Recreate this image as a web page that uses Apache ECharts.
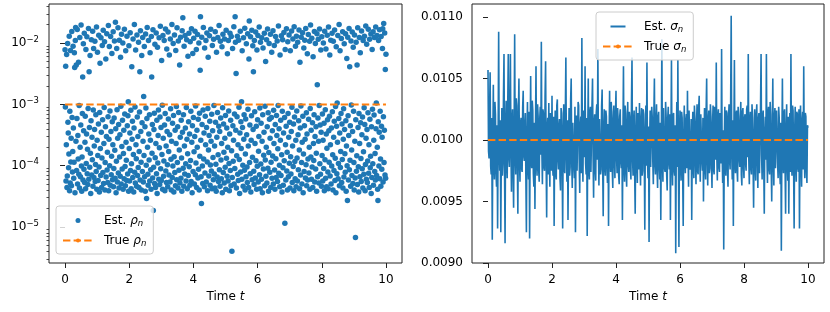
<!DOCTYPE html>
<html><head><meta charset="utf-8">
<script src="https://cdn.jsdelivr.net/npm/echarts@6/dist/echarts.min.js"></script>
<style>html,body{margin:0;padding:0;background:#fff}#c{width:830px;height:312px}</style>
</head><body><div id="c"></div>
<script>
// ---- data ----
const timeStart = 0;
const timeEnd = 10;
const rhoEst = [
7.8e-3,9.1e-4,4.2e-3,5.6e-5,2.2e-4,6.5e-3,4.4e-5,6.8e-5,9.9e-3,5.1e-4,3.4e-4,9.2e-5,1.55e-4,1.3e-2,3.9e-5,7.7e-4,5.2e-5,7.6e-3,1.15e-4,2.8e-4,
4.7e-5,1.55e-2,6.1e-4,7.9e-5,1.7e-4,8.9e-3,4.1e-4,6.2e-5,1.14e-4,7.0e-3,4.0e-3,3.6e-5,1.11e-2,1.8e-2,2.5e-4,4.4e-3,8.3e-5,5.9e-4,1.67e-2,5.0e-5,
3.1e-4,1.28e-4,4.9e-3,7.2e-5,9.6e-4,4.3e-5,1.24e-2,2.0e-4,6.6e-5,4.6e-4,1.98e-2,9.9e-5,3.8e-5,1.38e-4,7.1e-4,2.8e-3,5.8e-5,9.8e-3,3.7e-4,8.7e-5,
1.45e-2,5.3e-5,2.4e-4,6.4e-4,4.2e-5,7.9e-3,1.08e-4,3.3e-4,1.27e-2,7.4e-5,1.85e-4,4.9e-5,8.6e-4,1.74e-2,6.0e-5,3.4e-3,4.2e-4,9.4e-5,6.3e-3,1.6e-4,
3.5e-5,5.4e-4,1.14e-2,7.0e-5,2.9e-4,1.25e-4,1.57e-2,4.6e-5,8.1e-4,8.2e-3,6.4e-5,2.1e-4,3.9e-4,1.07e-2,5.5e-5,1.04e-4,6.8e-4,8.0e-5,1.83e-2,4.1e-5,
2.6e-4,7.1e-3,1.47e-4,5.7e-5,4.8e-4,1.35e-2,9.5e-5,3.7e-5,7.4e-4,4.7e-3,1.9e-4,6.9e-5,1.22e-2,3.5e-4,4.4e-5,1.33e-4,9.2e-3,5.6e-4,7.7e-5,1.62e-2,
5.1e-5,2.3e-4,8.9e-4,1.05e-2,4.0e-5,1.12e-4,4.3e-4,5.5e-3,6.5e-5,3.0e-4,1.43e-2,8.5e-5,1.65e-4,5.3e-5,6.3e-4,1.94e-2,3.9e-5,2.7e-4,8.8e-3,1.0e-4,
7.8e-4,4.8e-5,1.28e-2,3.6e-4,7.1e-5,1.42e-4,6.8e-3,5.2e-4,5.9e-5,2.2e-4,1.53e-2,4.5e-5,9.0e-5,6.0e-4,1.08e-2,1.78e-4,6.2e-5,2.2e-2,4.0e-4,3.6e-5,
1.18e-4,8.2e-3,8.2e-4,5.4e-5,2.8e-4,1.79e-2,7.6e-5,4.7e-4,4.3e-5,1.12e-2,1.38e-4,3.2e-4,6.7e-5,5.9e-3,9.3e-4,5.0e-5,1.4e-2,2.05e-4,8.8e-5,5.5e-4,
1.01e-2,4.1e-5,1.58e-4,3.8e-4,6.1e-5,1.69e-2,7.0e-4,9.7e-5,4.7e-5,7.5e-3,2.4e-4,1.22e-4,5.7e-5,1.3e-2,4.5e-4,7.3e-5,6.5e-4,1.1e-3,3.8e-5,9.1e-3,
1.9e-4,5.6e-5,3.4e-4,1.48e-2,8.3e-5,8.0e-4,4.2e-5,1.07e-4,4.1e-3,2.7e-4,5.3e-4,6.4e-5,1.17e-2,1.52e-4,3.7e-5,4.1e-4,2.02e-2,7.8e-5,9.1e-4,5.2e-5,
7.7e-3,2.2e-4,1.3e-4,4.6e-5,1.36e-2,6.2e-4,6.9e-5,3.0e-4,9.3e-5,1.03e-2,4.4e-5,1.7e-4,7.5e-4,3.4e-3,5.8e-5,1.6e-2,3.6e-4,1.14e-4,4.0e-5,6.3e-3,
5.0e-4,8.0e-5,1.24e-2,2.5e-4,5.4e-5,1.35e-3,1.46e-4,8.8e-3,6.6e-5,4.3e-4,3.8e-5,1.41e-2,8.7e-4,1.01e-4,2.9e-5,5.9e-4,1.81e-2,2.0e-4,7.2e-5,4.8e-5,
1.11e-2,3.3e-4,1.24e-4,6.8e-4,5.6e-5,7.0e-3,2.6e-4,8.6e-5,4.1e-5,1.28e-2,2.8e-3,1.6e-4,4.7e-4,6.3e-5,1.65e-2,1.85e-5,9.4e-5,3.9e-4,7.2e-4,5.1e-5,
9.6e-3,1.35e-4,4.4e-5,2.3e-4,1.47e-2,7.4e-5,5.5e-4,3.5e-5,8.6e-3,1.1e-4,3.1e-4,8.1e-4,6.0e-5,1.22e-2,1.95e-4,4.9e-5,6.2e-4,1.88e-2,8.9e-5,4.2e-4,
5.7e-5,5.2e-3,1.52e-4,9.7e-4,4.1e-5,1.33e-2,2.8e-4,6.7e-5,1.19e-4,1.1e-2,4.6e-4,3.9e-5,7.1e-4,1.71e-2,8.2e-5,2.1e-4,5.3e-5,8.0e-3,3.6e-4,1.03e-4,
4.5e-5,1.52e-2,5.8e-4,1.7e-4,7.0e-5,6.4e-3,3.2e-4,5.4e-5,1.17e-2,8.5e-4,1.27e-4,4.0e-5,2.5e-4,2.02e-2,6.4e-5,4.9e-4,9.9e-5,9.9e-3,6.6e-4,3.7e-5,
1.4e-4,1.36e-2,7.7e-5,3.8e-4,4.7e-5,7.6e-3,2.3e-4,9.2e-4,5.9e-5,1.78e-2,1.12e-4,4.3e-4,4.3e-5,1.08e-2,7.4e-4,8.4e-5,1.8e-4,4.4e-3,5.2e-5,2.9e-4,
1.25e-2,6.2e-5,5.5e-4,1.33e-4,3.8e-5,1.6e-2,3.5e-4,2.6e-2,9.1e-5,6.8e-4,4.6e-5,8.9e-3,2.1e-4,7.3e-5,1.33e-2,4.1e-4,1.07e-4,5.6e-5,8.9e-4,1.14e-2,
2.7e-4,4.2e-5,1.56e-4,6.1e-3,6.9e-5,5.2e-4,1.45e-2,9.6e-5,3.3e-4,4.8e-5,1.05e-2,1.21e-4,7.7e-4,5.5e-5,1.72e-2,2.4e-4,3.6e-5,4.5e-4,6.8e-3,8.0e-5,
6.1e-4,1.2e-2,1.68e-4,5.0e-5,3.0e-4,1.57e-2,7.1e-5,9.4e-4,1.1e-4,7.9e-3,4.4e-5,3.8e-4,2.0e-4,1.38e-2,6.3e-5,5.7e-4,8.7e-5,1.01e-2,4.0e-5,7.2e-4,
1.42e-4,3.6e-3,2.7e-2,2.6e-4,6.6e-5,2.4e-5,1.25e-2,4.7e-4,9.9e-5,5.1e-5,8.1e-4,1.81e-2,1.28e-4,3.4e-4,4.5e-5,8.3e-3,7.6e-5,6.4e-4,2.2e-4,1.1e-2,
5.4e-5,4.2e-4,1.47e-2,1.15e-4,3.9e-5,8.6e-4,5.9e-3,1.8e-4,6.8e-5,3.1e-4,1.32e-2,5.3e-4,4.8e-5,1.02e-4,1.69e-2,2.5e-4,8.2e-5,6.9e-4,4.2e-5,9.2e-3,
3.7e-4,1.36e-4,5.9e-5,1.16e-2,9.6e-4,7.3e-5,2.1e-4,4.3e-5,1.53e-2,5.1e-4,1.05e-4,3.8e-5,7.1e-3,2.9e-4,6.5e-5,7.4e-4,1.24e-2,1.5e-4,5.5e-5,4.4e-4,
1.94e-2,8.6e-5,3.6e-4,4.6e-5,1.07e-2,6.0e-4,1.24e-4,6.1e-5,2.3e-4,8.7e-3,3.6e-5,8.8e-4,1.4e-2,7.7e-5,4.8e-4,1.65e-4,5.2e-5,1.17e-2,2.8e-4,9.4e-5,
6.6e-4,4.1e-5,1.62e-2,1.32e-4,4.1e-4,6.7e-5,6.7e-3,2.0e-4,5.6e-5,1.11e-2,7.8e-4,1.08e-4,3.9e-5,3.3e-4,1.45e-2,8.3e-5,5.5e-4,4.7e-5,1.28e-2,1.75e-4,
4.0e-6,6.4e-5,8.2e-3,4.5e-4,1.18e-4,2.6e-4,1.85e-2,5.0e-5,7.0e-4,9.0e-5,2.7e-2,1.03e-2,3.8e-4,3.2e-3,4.3e-5,1.45e-4,6.3e-4,1.3e-2,7.2e-5,2.2e-4,
5.7e-5,1.12e-2,9.0e-4,1.26e-4,3.5e-5,3.4e-4,1.57e-2,7.9e-5,5.2e-4,1.9e-4,1.1e-3,6.0e-5,7.5e-3,4.2e-4,1.01e-4,4.6e-5,1.22e-2,2.7e-4,6.8e-4,8.4e-5,
1.76e-2,4.0e-5,1.55e-4,5.8e-4,6.6e-5,9.8e-3,3.2e-4,9.5e-5,5.3e-5,1.43e-2,8.3e-4,2.1e-4,4.4e-5,5.5e-3,2.3e-2,1.13e-4,4.6e-4,7.4e-5,1.27e-2,3.7e-5,
2.6e-4,6.5e-4,1.62e-2,5.9e-5,1.37e-4,9.1e-3,3.9e-4,3.4e-3,8.1e-5,4.9e-5,1.1e-2,7.6e-4,2.3e-4,6.3e-5,1.52e-2,1.2e-4,4.4e-4,4.1e-5,7.7e-3,9.8e-5,
5.6e-4,1.33e-2,5.4e-5,1.72e-4,3.0e-4,1.83e-2,7.1e-5,8.7e-4,4.2e-5,1.03e-2,1.06e-4,4.9e-4,6.0e-5,1.22e-2,2.5e-4,3.6e-5,6.8e-4,8.3e-3,8.8e-5,1.48e-4,
3.5e-4,1.45e-2,4.7e-5,9.3e-4,1.24e-4,5.0e-3,6.7e-5,2.0e-4,1.14e-2,5.2e-5,4.3e-4,1.71e-2,9.1e-5,7.3e-4,3.8e-5,1.64e-4,9.9e-3,5.7e-4,7.8e-5,2.8e-4,
1.4e-2,4.4e-5,1.14e-4,6.1e-4,7.1e-3,6.2e-5,3.7e-4,1.43e-4,1.6e-2,5.0e-5,8.0e-4,2.3e-4,9.2e-3,8.5e-5,4.1e-5,4.7e-4,1.28e-2,1.3e-4,6.4e-5,6.6e-4,
3.1e-4,1.08e-2,5.5e-5,1.88e-4,9.6e-4,1.9e-2,7.5e-5,4.0e-4,1.01e-4,4.5e-5,6.4e-3,2.6e-4,5.5e-4,6.9e-5,1.32e-2,1.5e-4,3.7e-5,7.7e-4,1.14e-2,9.2e-5,
4.8e-5,3.4e-4,1.5e-2,1.2e-4,6.1e-4,1.15e-5,7.9e-3,2.2e-4,5.8e-5,4.4e-4,1.72e-2,8.2e-5,1.66e-4,4.0e-5,1.05e-2,7.1e-4,6.6e-5,2.9e-4,1.36e-2,1.09e-4,
5.1e-4,4.3e-5,7.5e-3,1.4e-4,7.3e-5,3.6e-4,1.58e-2,9.0e-4,5.3e-5,2.1e-4,1.17e-2,9.7e-5,4.8e-4,3.9e-5,1.85e-2,6.2e-4,1.17e-4,6.1e-5,8.9e-3,2.6e-4,
4.5e-5,1.3e-2,7.8e-4,1.33e-4,5.6e-5,1.03e-2,3.2e-4,8.6e-5,5.4e-4,1.64e-2,1.8e-4,4.2e-5,4.9e-3,4.1e-4,7.0e-5,9.4e-4,1.25e-2,1.12e-4,5.0e-5,2.4e-4,
1.48e-2,6.4e-4,3.6e-5,1.55e-4,8.3e-3,8.0e-5,4.5e-4,1.12e-2,2.7e-4,6.3e-5,1.74e-2,1.03e-4,7.3e-4,4.7e-5,3.3e-4,6.7e-3,5.8e-5,1.28e-4,1.38e-2,5.7e-4,
7.6e-5,2.0e-4,1.07e-2,4.1e-5,8.6e-4,1.98e-2,1.38e-4,3.8e-4,6.0e-5,1.2e-2,9.5e-5,5.0e-4,4.4e-5,6.0e-3,2.3e-4,1.21e-4,6.8e-4,1.55e-2,5.4e-5,3.0e-4,
9.9e-3,8.8e-5,4.3e-4,1.6e-4,3.8e-5,1.43e-2,2.1e-3,6.6e-5,6.0e-4,1.16e-2,2.5e-4,5.2e-5,9.6e-4,1.71e-2,1.07e-4,4.6e-4,7.2e-5,7.7e-3,3.5e-4,4.6e-5,
1.27e-2,1.47e-4,7.0e-4,5.6e-5,2.6e-4,1.01e-2,9.0e-5,4.9e-4,3.9e-5,1.57e-2,1.25e-4,8.2e-4,6.2e-5,8.0e-3,3.3e-4,4.5e-5,1.92e-4,1.35e-2,5.6e-4,7.9e-5,
4.2e-5,1.83e-2,3.7e-4,1.14e-4,6.4e-4,6.4e-3,6.8e-5,2.2e-4,1.12e-2,5.0e-5,4.1e-4,9.9e-5,1.45e-2,7.6e-4,1.5e-4,4.0e-5,1.07e-2,2.9e-4,8.3e-5,5.3e-4,
1.64e-2,5.7e-5,1.32e-4,9.2e-4,3.6e-5,8.7e-3,4.4e-4,7.4e-5,1.05e-3,2.4e-4,1.33e-2,6.1e-5,1.08e-4,5.9e-4,2.02e-2,4.7e-5,3.4e-4,7.5e-3,9.3e-5,1.7e-4,
7.1e-4,1.19e-2,5.3e-5,4.8e-4,1.26e-4,1.53e-2,4.3e-5,2.7e-4,8.5e-4,6.5e-5,9.8e-3,3.9e-4,1.57e-4,7.8e-5,1.43e-2,5.4e-4,3.8e-5,2.1e-4,5.6e-3,1.0e-4,
2.7e-5,1.25e-2,6.5e-4,5.8e-5,3.1e-4,1.74e-2,8.6e-5,4.1e-3,1.22e-4,4.5e-4,4.6e-5,1.08e-2,9.8e-4,1.8e-4,6.9e-5,1.52e-2,3.6e-4,5.1e-5,8.6e-3,7.7e-4,
1.13e-4,4.0e-5,1.36e-2,2.5e-4,6.3e-5,6.7e-6,5.6e-4,1.03e-2,8.1e-5,1.45e-4,4.4e-3,4.9e-5,1.79e-2,4.2e-4,9.6e-5,3.7e-5,7.1e-4,1.24e-2,2.3e-4,6.6e-5,
7.0e-3,5.0e-4,1.31e-4,5.5e-5,1.58e-2,3.2e-4,8.9e-5,6.2e-4,4.3e-5,1.11e-2,1.68e-4,7.2e-5,8.8e-4,1.3e-2,4.7e-4,3.9e-5,1.04e-4,1.9e-2,2.8e-4,6.0e-5,
9.6e-3,3.9e-4,5.3e-5,1.19e-4,7.3e-4,1.69e-2,7.5e-5,2.2e-4,4.4e-5,1.16e-2,5.7e-4,9.2e-5,1.42e-4,1.41e-2,3.5e-5,4.3e-4,6.4e-5,7.9e-3,8.3e-4,1.07e-4,
1.53e-2,4.8e-5,2.6e-4,6.7e-4,1.24e-2,8.0e-5,1.58e-4,5.8e-5,1.83e-2,4.0e-4,1.05e-3,6.9e-5,1.33e-2,2.0e-4,4.1e-5,2.7e-5,5.2e-4,1.11e-2,9.9e-5,3.5e-4,
1.65e-2,6.1e-5,7.7e-4,1.28e-4,4.6e-5,1.28e-2,4.4e-4,8.7e-5,2.9e-4,8.2e-3,1.72e-2,5.4e-5,6.3e-4,2.1e-2,1.12e-4,3.8e-4,1.47e-2,7.0e-5,3.7e-3,6.2e-5,
6.6e-3
];
const rhoTrue = 1e-3;
const sigmaEst = [
0.01057,0.00991,0.00985,0.01024,0.01055,0.00979,0.00972,0.01018,0.00919,0.00996,0.01045,0.00983,0.00968,0.01031,0.01021,0.00974,0.00962,0.01012,0.00928,0.01003,
0.01088,0.00994,0.00975,0.01016,0.00925,0.00988,0.01026,0.00971,0.00981,0.01035,0.0107,0.00978,0.00916,0.01009,0.01032,0.00982,0.00969,0.01027,0.0107,0.00986,
0.00978,0.01021,0.0107,0.00993,0.00958,0.01015,0.01025,0.00976,0.00945,0.01008,0.01086,0.00989,0.00972,0.01034,0.01028,0.00981,0.0094,0.01019,0.0105,0.00984,
0.00966,0.01013,0.01018,0.00977,0.00974,0.01026,0.0104,0.00987,0.00983,0.01011,0.01022,0.00969,0.00925,0.01004,0.01031,0.00979,0.00968,0.01023,0.0092,0.00997,
0.01052,0.00985,0.00977,0.01032,0.01024,0.00973,0.00962,0.01014,0.00944,0.01006,0.0106,0.00982,0.00971,0.01029,0.01019,0.00976,0.00966,0.01017,0.01027,0.00988,
0.0108,0.00992,0.00964,0.01025,0.01021,0.00978,0.00975,0.01036,0.01064,0.00983,0.00937,0.01007,0.01018,0.00972,0.0103,0.00986,0.00962,0.01022,0.01012,0.00975,
0.01036,0.00981,0.00971,0.01019,0.0093,0.00998,0.01024,0.00974,0.00968,0.01028,0.01033,0.00985,0.00976,0.01011,0.01017,0.00969,0.00959,0.01026,0.01022,0.00983,
0.00928,0.01005,0.01029,0.00977,0.00973,0.01021,0.01067,0.00989,0.00966,0.01016,0.00935,0.00994,0.01026,0.00971,0.00978,0.01033,0.0105,0.00982,0.00961,0.01014,
0.01015,0.00979,0.00969,0.01027,0.00925,0.00996,0.0102,0.00975,0.00974,0.01031,0.01028,0.00984,0.00957,0.01012,0.01019,0.00973,0.01083,0.00991,0.00966,0.01024,
0.01024,0.00986,0.0106,0.00981,0.00972,0.01018,0.00922,0.01002,0.0105,0.00977,0.00968,0.01023,0.01027,0.00974,0.00975,0.01029,0.0105,0.00988,0.00953,0.01013,
0.01021,0.00976,0.00967,0.01022,0.01029,0.00984,0.01074,0.00993,0.00963,0.01017,0.01018,0.00972,0.00976,0.01027,0.01041,0.00981,0.00938,0.01008,0.01025,0.00979,
0.00971,0.01024,0.01019,0.00978,0.00965,0.01013,0.0093,0.00999,0.0104,0.00985,0.00974,0.01031,0.01023,0.00976,0.00961,0.01016,0.01028,0.00982,0.00969,0.01021,
0.0104,0.00987,0.00973,0.01026,0.01016,0.00971,0.00964,0.01019,0.01025,0.00983,0.00977,0.01012,0.00935,0.01004,0.0106,0.00979,0.00966,0.01028,0.01022,0.00974,
0.00962,0.01014,0.01031,0.00981,0.00974,0.01023,0.01018,0.00977,0.00968,0.01029,0.01067,0.00986,0.00971,0.01015,0.01024,0.00973,0.0094,0.01006,0.01027,0.00984,
0.00965,0.01022,0.01019,0.00976,0.0103,0.00982,0.00963,0.01017,0.01026,0.00971,0.00975,0.01025,0.01021,0.00988,0.00927,0.01001,0.01028,0.00979,0.01063,0.00985,
0.00969,0.01011,0.00917,0.00995,0.01024,0.00978,0.00977,0.01027,0.01018,0.00983,0.00964,0.01021,0.0105,0.00981,0.00972,0.01016,0.01029,0.00976,0.00961,0.01019,
0.01023,0.00979,0.00968,0.01014,0.00935,0.00997,0.01082,0.00986,0.00966,0.01026,0.01025,0.00977,0.00974,0.01031,0.01019,0.00972,0.00959,0.01018,0.01027,0.00982,
0.00976,0.01021,0.00935,0.01003,0.01065,0.00984,0.00963,0.01019,0.01022,0.00975,0.00971,0.01012,0.00908,0.00994,0.01031,0.00978,0.01065,0.00987,0.00913,0.01006,
0.01024,0.00981,0.00967,0.01023,0.01018,0.00974,0.0093,0.01002,0.01028,0.00985,0.00973,0.01016,0.01021,0.00977,0.0104,0.00989,0.00962,0.01024,0.01025,0.00976,
0.00978,0.01017,0.00935,0.00998,0.01023,0.00979,0.00969,0.01028,0.01017,0.00982,0.00964,0.01013,0.01029,0.00975,0.00972,0.01026,0.01036,0.00984,0.00966,0.01021,
0.01022,0.00983,0.00975,0.01018,0.0095,0.01001,0.01026,0.00977,0.00968,0.01024,0.0105,0.00986,0.00963,0.01015,0.01024,0.00973,0.00977,0.01029,0.01019,0.00981,
0.00961,0.01012,0.01028,0.00976,0.00972,0.01027,0.01021,0.00984,0.01063,0.00988,0.00967,0.01019,0.01025,0.00978,0.00974,0.01022,0.01018,0.00981,0.01074,0.00991,
0.00965,0.01008,0.00911,0.00996,0.01027,0.00979,0.00971,0.01024,0.01022,0.00977,0.00962,0.01018,0.01029,0.00983,0.00976,0.01031,0.01101,0.00989,0.00968,0.01016,
0.0093,0.01004,0.01065,0.00982,0.00973,0.01021,0.01024,0.00976,0.00966,0.01027,0.01019,0.00985,0.00978,0.01014,0.01031,0.00972,0.00963,0.01023,0.01026,0.00979,
0.00969,0.01018,0.01021,0.00981,0.00975,0.01025,0.01028,0.00986,0.0107,0.00984,0.00964,0.01016,0.01023,0.00977,0.00972,0.01029,0.01018,0.00983,0.00945,0.01002,
0.01025,0.00978,0.00967,0.01021,0.01029,0.00985,0.00961,0.01017,0.01022,0.00973,0.00974,0.01026,0.0107,0.00988,0.00968,0.01019,0.01024,0.00982,0.0094,0.01005,
0.01019,0.00984,0.0107,0.00987,0.00965,0.01022,0.01027,0.00976,0.00972,0.01031,0.01021,0.00979,0.0095,0.01003,0.0105,0.00985,0.00963,0.01018,0.01026,0.00977,
0.00976,0.01024,0.01023,0.00981,0.00969,0.01027,0.01018,0.00975,0.00964,0.01014,0.0091,0.00997,0.0105,0.00986,0.00973,0.01022,0.01025,0.00979,0.0094,0.01008,
0.01029,0.00982,0.00967,0.01019,0.0094,0.01002,0.01022,0.00974,0.0107,0.00985,0.00971,0.01028,0.01024,0.00978,0.00928,0.01006,0.01027,0.00981,0.00966,0.01023,
0.01021,0.00977,0.00974,0.01025,0.00928,0.00999,0.01028,0.00983,0.00962,0.01016,0.01023,0.00976,0.0106,0.00987,0.00969,0.01022,0.01019,0.00975,0.00965,0.01012,
0.0101
];
const sigmaTrue = 0.01;
const timeTicks = [0, 2, 4, 6, 8, 10];
const rhoTicks = [1e-5, 1e-4, 1e-3, 1e-2];
const rhoMinorTicks = [
3e-6,4e-6,5e-6,6e-6,7e-6,8e-6,9e-6,
2e-5,3e-5,4e-5,5e-5,6e-5,7e-5,8e-5,9e-5,
2e-4,3e-4,4e-4,5e-4,6e-4,7e-4,8e-4,9e-4,
2e-3,3e-3,4e-3,5e-3,6e-3,7e-3,8e-3,9e-3,
2e-2,3e-2,4e-2
];
const sigmaTicks = [0.0090, 0.0095, 0.0100, 0.0105, 0.0110];
const legendLabels = {
  rhoEst: 'Est. {i|ρ}{s|n}',
  rhoTrue: 'True {i|ρ}{s|n}',
  sigmaEst: 'Est. {i|σ}{s|n}',
  sigmaTrue: 'True {i|σ}{s|n}'
};

// ---- chart ----
const FONT = 'DejaVu Sans';
const BLUE = '#1f77b4', ORANGE = '#ff7f0e', INK = '#222';
const rhoTimes = rhoEst.map((_, i) => timeStart + i * (timeEnd - timeStart) / (rhoEst.length - 1));
const sigmaTimes = sigmaEst.map((_, i) => timeStart + i * (timeEnd - timeStart) / (sigmaEst.length - 1));

const legendRich = {
  i: {fontFamily: FONT, fontStyle: 'italic', fontSize: 12, color: '#000', lineHeight: 15},
  s: {fontFamily: FONT, fontStyle: 'italic', fontSize: 8.5, color: '#000', lineHeight: 8, verticalAlign: 'bottom'}
};
function makeXAxis(g) {
  return {
    gridIndex: g, type: 'value', min: -0.5, max: 10.5,
    axisLine: {show: false}, splitLine: {show: false},
    axisTick: {show: true, customValues: timeTicks, length: 5, lineStyle: {color: INK, width: 1}},
    axisLabel: {customValues: timeTicks, fontSize: 12, color: '#000', margin: 11, fontFamily: FONT},
    name: 'Time {i|t}', nameLocation: 'middle', nameGap: 28,
    nameTextStyle: {fontSize: 12, color: '#000', fontFamily: FONT,
      rich: {i: {fontStyle: 'italic', fontSize: 12, fontFamily: FONT, color: '#000'}}}
  };
}
function makeLegend(items, left, top) {
  return {
    data: items, orient: 'vertical', left: left, top: top,
    padding: [7, 7, 6, 6], itemWidth: 30, itemHeight: 5, itemGap: 5,
    selectedMode: false,
    formatter: n => legendLabels[n],
    backgroundColor: 'rgba(255,255,255,0.8)', borderColor: '#ccc', borderWidth: 1, borderRadius: 3,
    textStyle: {fontFamily: FONT, fontSize: 12, color: '#000', lineHeight: 15, padding: [0, 0, 0, 6], rich: legendRich}
  };
}

const chart = echarts.init(document.getElementById('c'), null, {renderer: 'canvas'});
chart.setOption({
  animation: false,
  textStyle: {fontFamily: FONT},
  grid: [
    {left: 49, top: 4, width: 353, height: 259, show: true, borderColor: INK, borderWidth: 1, backgroundColor: 'transparent'},
    {left: 472, top: 4, width: 352, height: 259, show: true, borderColor: INK, borderWidth: 1, backgroundColor: 'transparent'}
  ],
  xAxis: [makeXAxis(0), makeXAxis(1)],
  yAxis: [
    {gridIndex: 0, type: 'log', logBase: 10, min: 2.57e-6, max: 0.0436, position: 'left',
     axisLine: {show: false}, splitLine: {show: false},
     axisTick: {show: true, customValues: rhoTicks, length: 5, lineStyle: {color: INK, width: 1}},
     axisLabel: {customValues: rhoTicks, margin: 10, color: '#000', fontFamily: FONT,
       formatter: v => '{b|10}{e|−' + Math.round(-Math.log10(v)) + '}',
       rich: {b: {fontSize: 12, fontFamily: FONT, color: '#000', lineHeight: 16},
              e: {fontSize: 8.5, fontFamily: FONT, color: '#000', lineHeight: 9, verticalAlign: 'top'}}}},
    {gridIndex: 0, type: 'log', logBase: 10, min: 2.57e-6, max: 0.0436, position: 'left',
     axisLine: {show: false}, splitLine: {show: false},
     axisTick: {show: true, customValues: rhoMinorTicks, length: 2.5, lineStyle: {color: INK, width: 0.8}},
     axisLabel: {show: false}},
    {gridIndex: 1, type: 'value', min: 0.0090, max: 0.011106, position: 'left',
     axisLine: {show: false}, splitLine: {show: false},
     axisTick: {show: true, customValues: sigmaTicks, length: 5, lineStyle: {color: INK, width: 1}},
     axisLabel: {customValues: sigmaTicks, margin: 9, fontSize: 12, color: '#000', fontFamily: FONT,
       formatter: v => v.toFixed(4)}}
  ],
  legend: [
    makeLegend(['rhoEst', 'rhoTrue'], 56, 206),
    makeLegend([{name: 'sigmaEst', icon: 'path://M0,0M0,3H30V7H0ZM30,10'}, 'sigmaTrue'], 596, 12)
  ],
  series: [
    {type: 'scatter', name: 'rhoEst', xAxisIndex: 0, yAxisIndex: 0,
     data: rhoEst.map((v, i) => [rhoTimes[i], v]), symbol: 'circle', symbolSize: 5.5,
     itemStyle: {color: BLUE, opacity: 1}, emphasis: {disabled: true}},
    {type: 'line', name: 'rhoTrue', xAxisIndex: 0, yAxisIndex: 0,
     data: [[timeStart, rhoTrue], [timeEnd, rhoTrue]], symbol: 'none',
     lineStyle: {color: ORANGE, width: 2, type: [7.4, 3.2]}, itemStyle: {color: ORANGE}},
    {type: 'line', name: 'sigmaEst', xAxisIndex: 1, yAxisIndex: 2,
     data: sigmaEst.map((v, i) => [sigmaTimes[i], v]), symbol: 'none',
     lineStyle: {color: BLUE, width: 1.6}, itemStyle: {color: BLUE}},
    {type: 'line', name: 'sigmaTrue', xAxisIndex: 1, yAxisIndex: 2,
     data: [[timeStart, sigmaTrue], [timeEnd, sigmaTrue]], symbol: 'none',
     lineStyle: {color: ORANGE, width: 2, type: [7.4, 3.2]}, itemStyle: {color: ORANGE}}
  ]
});
</script></body></html>
